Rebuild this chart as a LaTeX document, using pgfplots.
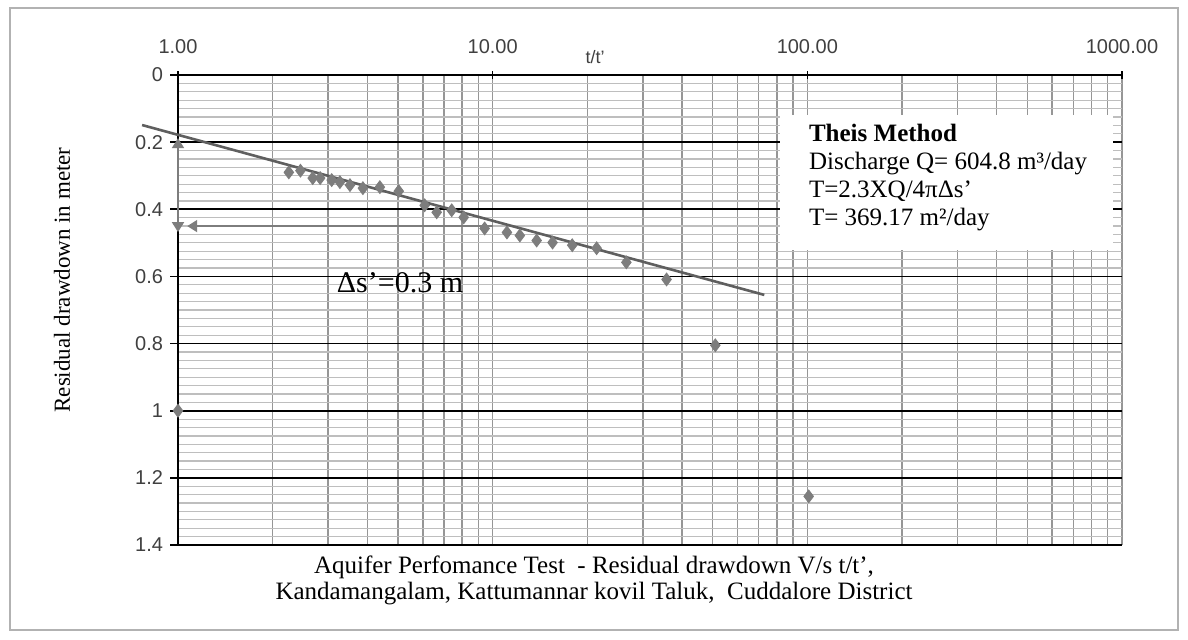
\documentclass[border=0pt]{standalone}
\usepackage{pgfplots}
\pgfplotsset{compat=1.18}
\usepackage{fontspec}
\setmainfont{Liberation Serif}
\setsansfont{Liberation Sans}
\usetikzlibrary{arrows.meta}
\definecolor{ptgray}{RGB}{125,125,125}
\definecolor{linegray}{RGB}{95,95,95}
\definecolor{vgrid}{RGB}{150,150,150}
\definecolor{mgrid}{RGB}{190,190,190}
\begin{document}
\begin{tikzpicture}
\fill[white] (-89pt,-47pt) rectangle (505pt,272.5pt);
\draw[gray!60, line width=0.8pt] (-84pt,-42.5pt) rectangle (500pt,268.5pt);
\begin{axis}[
  at={(0pt,0pt)}, anchor=south west,
  scale only axis, width=472pt, height=235pt,
  xmode=log, xmin=1, xmax=1000, ymin=0, ymax=1.4, y dir=reverse,
  axis x line*=top, axis y line*=left, axis line style={-, black, line width=0.9pt},
  xtick={1,10,100,1000}, xticklabels={1.00,10.00,100.00,1000.00},
  minor xtick={2,3,4,5,6,7,8,9,20,30,40,50,60,70,80,90,200,300,400,500,600,700,800,900},
  ytick={0,0.2,0.4,0.6,0.8,1,1.2}, yticklabels={0,0.2,0.4,0.6,0.8,1,1.2},
  extra y ticks={1.4}, extra y tick labels={1.4},
  extra y tick style={grid style={mgrid, line width=0.8pt}},
  minor ytick={0.025,0.05,0.075,0.1,0.125,0.15,0.175,
    0.225,0.25,0.275,0.3,0.325,0.35,0.375,
    0.425,0.45,0.475,0.5,0.525,0.55,0.575,
    0.625,0.65,0.675,0.7,0.725,0.75,0.775,
    0.825,0.85,0.875,0.9,0.925,0.95,0.975,
    1.025,1.05,1.075,1.1,1.125,1.15,1.175,
    1.225,1.25,1.275,1.3,1.325,1.35,1.375},
  grid=both,
  major x grid style={vgrid, line width=0.8pt},
  minor x grid style={vgrid, line width=0.7pt},
  major y grid style={black, line width=0.9pt},
  minor y grid style={mgrid, line width=0.6pt},
  tick label style={font=\sffamily\fontsize{10}{12}\selectfont, text=black!75},
  xticklabel style={yshift=5pt},
  xtick align=center, ytick align=outside,
  major tick length=4pt, minor tick length=0pt,
  tick style={black, line width=0.8pt},
  clip=false,
]
\addplot[line width=0.9pt, ptgray, {Triangle[width=6pt,length=5pt]}-{Triangle[width=6pt,length=5pt]}] coordinates {(1,0.188) (1,0.468)};
\addplot[line width=0.9pt, ptgray, -{Triangle[width=6pt,length=5pt]}] coordinates {(10,0.45) (1.07,0.45)};
\addplot[line width=1.3pt, linegray] coordinates {(0.769,0.149) (73,0.655)};
\addplot[only marks, mark=diamond*, mark size=3.2pt, color=ptgray, mark options={fill=ptgray}] coordinates {
(1,1.0)
(2.25,0.29) (2.45,0.285) (2.68,0.307) (2.83,0.307) (3.08,0.313) (3.27,0.319)
(3.52,0.328) (3.87,0.337) (4.38,0.334) (5.03,0.346) (6.08,0.388) (6.64,0.409)
(7.41,0.403) (8.09,0.424) (9.43,0.457) (11.1,0.469) (12.2,0.478) (13.8,0.493)
(15.5,0.499) (17.9,0.507) (21.4,0.516) (26.6,0.558) (35.7,0.609)
(51,0.805) (101,1.255)
};
\end{axis}
\fill[white] (301pt,147.5pt) rectangle (467.5pt,215pt);
\node[anchor=base west, font=\fontsize{12.5}{14}\selectfont\bfseries] at (312pt,202pt) {Theis Method};
\node[anchor=base west, font=\fontsize{12.5}{14}\selectfont] at (312pt,188pt) {Discharge Q=\ 604.8 m³/day};
\node[anchor=base west, font=\fontsize{12.5}{14}\selectfont] at (312pt,174pt) {T=2.3XQ/4πΔs'};
\node[anchor=base west, font=\fontsize{12.5}{14}\selectfont] at (312pt,160pt) {T= 369.17 m²/day};
\node[font=\fontsize{15}{18}\selectfont] at (111pt,131pt) {Δs'=0.3 m};
\node[rotate=90, font=\fontsize{11.5}{14}\selectfont] at (-58pt,132.5pt) {Residual drawdown in meter};
\node[font=\sffamily\fontsize{9}{11}\selectfont, text=black!75] at (208.5pt,244pt) {t/t'};
\node[font=\fontsize{12.5}{15}\selectfont] at (208pt,-11pt) {Aquifer Perfomance Test\ \ - Residual drawdown V/s t/t',};
\node[font=\fontsize{12.5}{15}\selectfont] at (208pt,-24.5pt) {Kandamangalam, Kattumannar kovil Taluk,\ \ Cuddalore District};
\end{tikzpicture}
\end{document}
